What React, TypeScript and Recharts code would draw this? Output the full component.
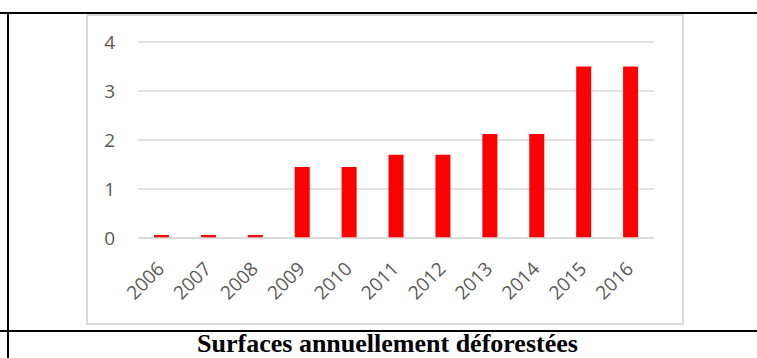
import { BarChart, Bar, XAxis, YAxis, CartesianGrid } from 'recharts';

const years = ['2006', '2007', '2008', '2009', '2010', '2011', '2012', '2013', '2014', '2015', '2016'];
const surfaces = [0.06, 0.06, 0.06, 1.45, 1.45, 1.7, 1.7, 2.12, 2.12, 3.5, 3.5];
const yTicks = [0, 1, 2, 3, 4];
const title = 'Surfaces annuellement déforestées';

const data = years.map((year, i) => ({ year, value: surfaces[i] }));

const tickColor = '#595959';
const gridColor = '#d9d9d9';
const tickFont = "'Open Sans', sans-serif";

// étiquettes de l'axe X inclinées à 45°
const YearTick = ({ x, y, payload }: any) => {
    const tx = x + 4;
    const ty = y + 32;
    return (
        <text
            x={tx}
            y={ty}
            transform={`rotate(-45, ${tx}, ${ty})`}
            textAnchor="end"
            fill={tickColor}
            fontSize={19}
            fontFamily={tickFont}
        >
            {payload.value}
        </text>
    );
};

const App = () => {
    return (
        <div style={{ position: 'absolute', left: 0, top: 0, width: 757, height: 358, background: '#fff', overflow: 'hidden' }}>
            {/* bordures du tableau */}
            <div style={{ position: 'absolute', left: 0, top: 12, width: 757, height: 2, background: '#000' }} />
            <div style={{ position: 'absolute', left: 7, top: 12, width: 2, height: 346, background: '#000' }} />
            <div style={{ position: 'absolute', left: 0, top: 330, width: 757, height: 2, background: '#000' }} />

            {/* cadre du graphique */}
            <div
                style={{
                    position: 'absolute',
                    left: 86,
                    top: 14,
                    width: 598,
                    height: 311,
                    background: '#fff',
                    boxSizing: 'border-box',
                    border: `2px solid ${gridColor}`,
                }}
            >
                <BarChart
                    width={594}
                    height={307}
                    data={data}
                    margin={{ top: 26, right: 28, left: 0, bottom: 0 }}
                    style={{ position: 'absolute', left: 0, top: 0 }}
                >
                    <CartesianGrid vertical={false} stroke={gridColor} strokeWidth={1.5} />
                    <XAxis
                        dataKey="year"
                        interval={0}
                        height={85}
                        tickLine={false}
                        tickSize={0}
                        tickMargin={0}
                        axisLine={{ stroke: gridColor, strokeWidth: 1.5 }}
                        tick={<YearTick />}
                    />
                    <YAxis
                        width={50}
                        domain={[0, 4]}
                        ticks={yTicks}
                        axisLine={false}
                        tickLine={false}
                        tickSize={0}
                        tickMargin={23}
                        tick={{ fill: tickColor, fontSize: 19, fontFamily: tickFont }}
                    />
                    <Bar dataKey="value" fill="#ff0000" barSize={15} isAnimationActive={false} />
                </BarChart>
            </div>

            {/* titre sous le graphique */}
            <div
                style={{
                    position: 'absolute',
                    left: 0,
                    top: 332,
                    width: 775,
                    textAlign: 'center',
                    fontFamily: "'Liberation Serif', 'Times New Roman', serif",
                    fontWeight: 'bold',
                    fontSize: 26,
                    lineHeight: '24px',
                    whiteSpace: 'nowrap',
                    color: '#000',
                }}
            >
                {title}
            </div>
        </div>
    );
};

export default App;
